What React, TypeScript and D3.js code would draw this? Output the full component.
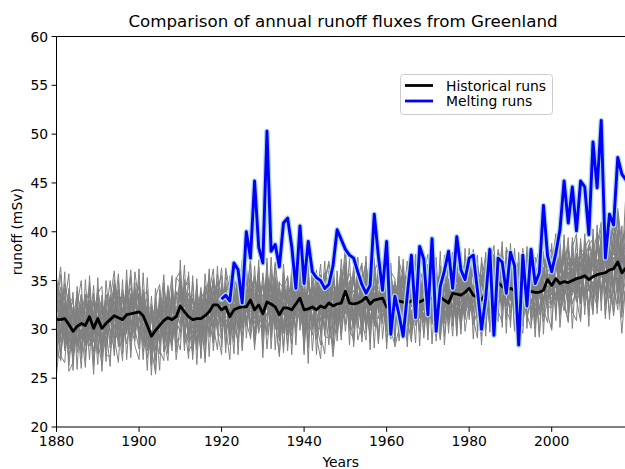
import React from 'react';
import * as d3 from 'd3';

// ---------- data ----------
const firstYear = 1880;
const lastYear = 2018;
const meltStartYear = 1920;
const xTicks = [1880, 1900, 1920, 1940, 1960, 1980, 2000];
const yTicks = [20, 25, 30, 35, 40, 45, 50, 55, 60];

// Historical runs ensemble mean (mSv), 1880-2018
const historicalMean = [
  31.0, 31.0, 31.1, 30.5, 29.8, 30.3, 30.6, 30.4, 31.3, 30.1,
  31.1, 30.1, 30.6, 31.0, 31.4, 31.2, 31.0, 31.5, 31.6, 31.7,
  31.8, 31.4, 30.4, 29.3, 29.9, 30.4, 30.9, 31.2, 31.0, 31.3,
  32.4, 31.8, 31.3, 31.0, 31.1, 31.1, 31.4, 31.8, 32.5, 32.5,
  32.0, 32.3, 31.3, 32.0, 32.2, 32.3, 32.3, 33.0, 32.0, 32.5,
  31.6, 32.8, 32.6, 32.3, 31.5, 32.2, 32.2, 32.0, 32.6, 33.2,
  32.0, 32.1, 32.3, 32.0, 32.4, 32.2, 32.7, 32.4, 32.6, 32.7,
  33.9, 32.7, 32.6, 32.7, 32.9, 33.3, 32.6, 33.0, 33.1, 33.2,
  32.3, 32.6, 32.8, 32.9, 32.8, 32.7, 32.9, 33.2, 32.8, 33.0,
  33.3, 33.2, 33.1, 33.3, 33.0, 32.7, 33.7, 33.6, 33.5, 33.8,
  34.2, 33.5, 33.3, 33.0, 33.7, 34.0, 34.6, 34.8, 34.4, 34.1,
  34.2, 34.0, 34.0, 33.9, 34.0, 33.9, 33.8, 33.8, 34.0, 35.1,
  34.5, 35.2, 34.7, 34.9, 34.8, 35.0, 35.2, 35.3, 35.5, 35.1,
  35.4, 35.6, 35.7, 35.8, 36.1, 36.2, 36.9, 35.8, 36.3,
];

// Melting runs mean (mSv), 1920-2018
const meltingMean = [
  33.1, 33.5, 32.9, 36.8, 36.1, 32.7, 40.0, 37.3, 45.2, 38.4,
  36.8, 50.3, 38.0, 38.7, 36.4, 40.9, 41.4, 38.5, 34.2, 40.6,
  34.7, 39.0, 35.9, 35.3, 35.0, 34.2, 34.6, 36.5, 40.2, 39.2,
  38.2, 37.6, 37.3, 35.9, 34.6, 33.7, 34.5, 41.8, 37.5, 34.0,
  39.0, 29.5, 33.4, 31.5, 29.3, 33.5, 37.6, 31.2, 38.5, 37.2,
  31.5, 39.3, 29.8, 34.4, 36.0, 38.0, 34.2, 39.5, 36.1, 35.1,
  37.3, 37.6, 34.0, 30.0, 33.2, 38.2, 29.4, 37.3, 36.9, 33.7,
  37.9, 36.5, 28.4, 37.6, 32.4, 38.2, 34.7, 35.8, 42.7, 37.5,
  35.9, 37.8, 40.2, 45.2, 40.9, 44.6, 40.1, 45.2, 44.6, 39.7,
  49.2, 44.5, 51.4, 37.3, 41.8, 40.7, 47.6, 45.9, 45.3,
];

// Individual historical members: anomaly from the ensemble mean (mSv), 1880-2018
const member01 = [
  -5.6, -1.2, 2.3, 0.8, -1.5, 1.9, -0.4, 2.6, -2.1, 0.7,
  1.4, -0.9, -2.7, 1.1, 0.3, 2.8, -1.6, -0.2, 1.7, -2.4,
  0.6, 1.9, -1.3, 2.2, -3.1, 0.4, 1.2, -0.8, 2.4, -1.5,
  -0.3, 2.9, -2.2, 0.9, 1.6, -1.1, 0.2, 3.1, -1.9, 0.5,
  1.8, -2.6, 0.7, -0.4, 2.3, -1.7, 1.1, -3.2, 0.8, 2.0,
  -1.4, 0.3, 1.9, -2.3, 0.6, 2.5, -0.9, -1.8, 1.3, 0.1,
  2.2, -1.0, -2.9, 1.5, 0.4, -0.6, 2.7, -1.3, 0.9, -2.0,
  0.5, 1.6, -1.7, 2.4, -0.2, -3.0, 1.2, 0.8, -1.1, 2.9,
  -0.7, 0.2, 2.1, -1.6, 1.0, -2.4, 0.6, 1.8, -0.5, -1.9,
  2.6, -0.8, 0.4, -2.2, 1.7, 0.9, -1.4, 2.3, -0.1, -2.8,
  1.1, 2.0, -1.2, 0.3, -2.5, 1.6, 0.7, -0.9, 2.8, -1.7,
  0.2, -1.5, 2.5, -0.6, 1.4, -2.1, 0.9, 1.9, -2.7, 0.6,
  -1.0, 2.2, 0.5, -1.8, 3.0, -0.4, -2.3, 1.5, 0.2, 2.4,
  -1.6, 0.8, 2.6, -0.3, 1.9, -2.0, 3.3, 0.4, 7.9,
];
const member02 = [
  2.1, 5.4, -0.6, 1.3, -2.2, 0.5, 3.0, -1.4, 0.9, 2.7,
  -1.8, 0.4, 1.6, -2.9, 2.2, -0.7, 1.0, 2.4, -1.3, 0.2,
  -2.4, 0.9, 2.8, -0.5, 1.5, -1.9, 0.3, -2.6, 1.2, 2.0,
  0.7, -1.5, 1.8, 2.6, -0.9, 0.4, -2.8, 1.3, 2.1, -0.6,
  -1.1, 2.4, -0.3, 1.7, -2.0, 3.2, 0.6, -1.5, -0.4, 1.9,
  2.8, -0.2, -1.7, 0.8, 2.3, -2.5, 1.4, 0.3, -0.9, 2.6,
  -0.5, 1.3, 2.0, -2.2, 0.1, 1.7, -1.8, 2.9, 0.6, -1.2,
  1.9, -2.7, 0.4, 1.1, -1.4, 2.2, -0.3, -2.0, 3.1, 0.8,
  -1.5, 2.6, -0.8, 0.5, 1.9, -2.3, 1.2, -0.6, 2.3, 0.0,
  1.4, -1.9, 2.7, 0.3, -0.8, 1.6, -2.6, 0.9, 1.8, -1.3,
  -0.4, 1.0, -2.1, 2.5, 0.7, -1.6, 2.2, -0.2, -1.9, 1.5,
  2.3, 0.6, -1.1, -2.4, 1.7, 0.2, -0.7, 2.8, 1.0, -1.8,
  0.9, -0.6, 1.8, 2.6, -1.5, 0.4, 2.1, -1.2, -2.5, 1.3,
  3.1, -0.9, 0.7, 4.2, -1.1, 2.4, -2.8, 1.6, 0.5,
];
const member03 = [
  -3.2, -4.1, 0.4, -1.7, 2.5, -0.8, -2.3, 1.1, -3.0, 0.2,
  -0.6, -2.8, 1.4, -1.0, -3.5, 0.7, -1.9, 2.0, -0.4, -2.6,
  1.6, -1.1, -3.3, 0.5, -0.9, 1.9, -2.4, -0.2, -1.6, 0.8,
  -2.0, 0.3, -0.7, -3.6, 1.2, -1.4, 0.6, -2.2, 1.5, -0.5,
  -1.3, 0.9, -2.9, 0.2, -1.8, 1.4, -0.6, 2.1, -3.1, -0.3,
  0.4, -2.1, 1.0, -1.5, -4.0, 0.6, -0.8, 1.7, -2.5, -1.1,
  -2.7, 0.5, -1.2, 1.8, -0.6, -2.3, 0.2, -1.5, 1.3, -3.4,
  -0.9, 1.2, -2.0, -0.4, 2.0, -1.7, -3.1, 0.7, -0.2, -1.9,
  1.1, -0.5, -2.6, 0.9, -1.3, 0.3, -3.7, -1.0, 0.6, -2.2,
  -1.4, 0.8, -0.3, -2.8, 1.5, -1.7, 0.1, -2.4, -0.8, 1.2,
  -2.5, -0.7, 1.3, -1.9, -0.2, -3.0, 0.8, -1.1, -2.1, 0.4,
  -0.9, 1.6, -2.3, -0.5, -1.6, 0.9, -3.3, -0.4, 0.7, -2.0,
  -1.2, -2.9, 0.3, -0.8, 1.1, -2.4, -1.0, 0.5, -3.1, -0.6,
  -2.2, 0.6, -1.5, -0.3, -4.5, -1.8, 0.2, -2.6, -1.0,
];
const member04 = [
  1.2, 0.3, 3.6, 2.1, -0.5, 1.8, 0.2, -1.7, 2.4, 1.0,
  2.9, 1.5, -0.3, 0.8, 2.6, -1.2, 3.1, 0.5, 1.9, -0.6,
  0.4, 2.3, 1.1, -1.0, 2.7, 0.9, -0.4, 3.3, 0.6, 1.7,
  2.5, -0.8, 0.7, 1.9, -0.2, 2.8, 1.4, -1.1, 0.3, 2.2,
  -0.4, 1.6, 3.0, 0.1, 1.2, -0.9, 2.4, 0.7, 3.5, -0.3,
  1.5, 2.7, 0.2, 1.0, -1.3, 2.1, 3.2, 0.4, 1.8, -0.7,
  0.9, -0.4, 2.5, 3.4, 0.6, -1.0, 1.3, 2.6, 0.0, 1.9,
  2.8, 0.5, 1.4, -0.8, 2.0, 3.6, 0.2, 1.1, 2.3, -0.5,
  1.6, 3.1, 0.3, 2.4, -0.6, 1.2, 2.9, 0.8, -1.2, 2.0,
  0.7, 1.8, 2.6, -0.3, 3.3, 0.9, 1.5, -0.9, 2.2, 3.0,
  1.3, -0.2, 2.1, 1.6, 0.4, 2.8, -0.7, 1.9, 3.4, 0.6,
  2.4, 1.0, -0.5, 3.1, 1.7, 0.3, 2.5, -0.1, 1.4, 2.9,
  0.8, 3.2, 1.5, 0.1, 2.7, 1.9, -0.4, 3.0, 2.2, 0.7,
  2.6, 4.1, 1.2, 3.4, 0.5, 2.3, 4.6, 1.8, 2.9,
];
const member05 = [
  -1.5, 2.7, -3.0, 0.6, 1.4, -2.1, 0.9, 3.2, -0.8, -2.4,
  0.3, 1.9, -1.1, 2.5, -2.7, 0.1, 2.0, -1.6, 0.7, 1.3,
  -2.0, 0.8, 1.7, -0.9, 2.9, -1.8, 0.5, 1.4, -2.5, 0.2,
  1.1, -2.3, 0.4, 2.2, -0.6, 1.5, -3.0, 0.9, 2.6, -1.2,
  0.6, 1.3, -1.9, 2.7, -0.2, -1.4, 1.8, 0.3, -2.6, 1.1,
  -0.8, 2.4, 0.5, -2.2, 1.6, 0.0, -1.3, 2.9, -0.4, 1.7,
  1.4, -1.7, 0.8, 2.1, -2.8, 1.0, 0.3, -0.9, 2.4, -1.5,
  -2.1, 0.6, 2.3, -1.0, 0.9, -0.3, 1.7, -2.4, 0.4, 1.6,
  2.2, -1.3, -0.2, 1.5, -2.0, 2.8, -0.6, 0.1, 1.3, -0.9,
  -1.7, 2.0, 0.7, -0.5, 1.2, -2.3, 2.6, -1.1, 0.5, 1.9,
  0.4, -1.8, 2.4, -0.2, 1.0, 0.6, -2.2, 1.8, -0.7, 2.3,
  -1.3, 0.9, 1.5, -2.6, 0.2, 2.1, -0.9, 1.2, -1.5, 0.8,
  2.0, -0.7, -1.9, 1.3, 0.5, -1.1, 2.6, -2.0, 1.1, -0.3,
  1.7, -2.4, 0.9, 2.2, -0.6, 3.5, -1.3, -3.6, 1.4,
];
const member06 = [
  0.8, -2.0, 1.5, -0.3, 2.2, -1.6, 0.4, -0.9, 1.7, -3.3,
  -1.2, 2.6, 0.5, -2.1, 1.0, -0.4, -2.9, 1.6, 0.2, 2.4,
  1.3, -0.6, 2.0, -2.8, 0.7, 2.4, -1.3, 0.1, -2.0, 1.1,
  -0.5, 1.7, -1.8, 0.6, -2.6, 0.3, 2.1, -1.0, 1.4, -2.2,
  2.3, -1.1, 0.2, -2.5, 1.5, 0.8, -1.7, 2.6, -0.9, 0.4,
  -1.9, 1.2, -0.6, 2.7, -1.4, -2.2, 0.9, -0.1, 2.2, -1.6,
  0.3, 2.5, -1.4, -0.2, 1.8, -2.7, 1.1, 0.5, -1.9, 2.0,
  -1.0, -0.3, 2.7, 0.4, -2.3, 1.3, -0.7, 2.2, -1.2, 0.0,
  1.9, -2.5, 0.8, -1.1, 2.4, 0.2, -1.6, 1.0, -2.9, 1.6,
  -0.3, 1.4, -2.0, 2.2, -0.9, 1.1, 0.3, -1.8, 2.7, -0.6,
  -2.1, 0.7, 1.9, -1.3, 2.5, -0.5, 1.4, -2.4, 0.2, 1.0,
  1.6, -2.2, 0.4, 1.2, -1.7, 2.4, -0.3, -1.9, 2.1, -0.8,
  -0.4, 1.5, -1.2, 2.9, -2.1, 0.6, 1.8, -0.7, -1.4, 2.3,
  0.9, -1.9, 2.8, -0.6, 1.3, -2.5, 0.4, 1.9, -0.8,
];
const member07 = [
  3.9, 1.1, -1.8, 2.8, 0.2, -0.7, 2.0, 1.4, -1.3, 2.5,
  0.1, -1.5, 2.3, 1.7, -0.4, 2.9, 0.6, -1.9, 2.1, 1.0,
  2.6, 0.3, -0.8, 1.5, 2.2, -1.4, 3.0, 0.8, -0.5, 2.4,
  1.2, 2.0, -1.6, 0.4, 2.7, 0.9, -0.2, 1.8, -1.3, 3.2,
  0.5, -0.7, 2.1, 1.3, -1.2, 2.6, 0.0, 1.5, 2.4, -0.8,
  2.0, 1.0, -0.9, 3.1, 0.7, -1.5, 2.3, 1.2, -0.1, 2.8,
  -1.0, 2.2, 1.6, -0.6, 2.9, 0.4, -1.4, 2.0, 1.1, 0.3,
  1.7, -1.2, 0.6, 2.5, 1.3, -0.9, 2.7, 0.2, 1.9, -0.4,
  0.6, 2.3, 1.4, -1.7, 0.8, 2.9, -0.2, 1.5, 2.2, -1.1,
  2.1, 0.2, -0.6, 1.9, 2.6, -1.3, 1.0, 3.0, -0.4, 1.6,
  0.8, 2.5, 1.2, -1.0, 0.5, 2.2, 3.1, -0.8, 1.4, 2.0,
  -0.7, 1.8, 2.9, 0.6, -1.4, 1.5, 2.3, 0.1, 3.3, 1.2,
  2.4, -0.5, 1.0, 2.7, 3.4, 0.5, -1.0, 2.8, 1.6, 3.6,
  0.9, 3.0, 1.8, -0.8, 2.5, 4.4, 2.2, -0.2, 1.1,
];
const member08 = [
  -2.6, 0.4, -1.2, -3.4, 0.9, 1.7, -2.5, -0.6, 1.2, -1.4,
  -2.9, 0.6, -0.8, 1.4, -1.7, -2.3, 0.5, -3.0, -0.2, 1.1,
  -1.5, -2.4, 0.9, -0.3, -2.7, 1.3, -1.0, -3.5, 0.4, -1.8,
  0.2, -1.9, -2.6, 1.0, -0.7, -3.2, 0.8, -1.4, -2.1, 0.6,
  -2.4, -0.1, 1.3, -1.8, -3.3, 0.3, -1.2, -0.5, 1.0, -2.7,
  -0.6, -3.1, -1.0, 0.7, -1.9, 1.2, -2.8, -0.4, -1.5, 0.8,
  -2.2, -0.8, 1.1, -3.0, -1.3, 0.6, -2.0, -3.8, 0.2, -1.0,
  -1.6, 0.3, -2.5, -1.1, 1.4, -2.2, -0.4, -1.8, -3.4, 0.5,
  -0.9, -2.0, 0.7, -3.1, -1.4, 0.0, -2.6, 1.1, -1.7, -0.5,
  -2.8, 0.9, -1.3, -0.2, -2.4, 1.3, -3.0, -0.7, -1.6, 0.4,
  -1.1, -2.9, 0.5, -1.5, -0.6, -3.6, 0.8, -2.0, -1.2, 0.1,
  -2.5, -0.3, -1.7, 1.0, -2.8, -0.8, -1.4, 0.6, -3.2, -1.9,
  0.3, -2.2, -1.0, -3.0, -0.5, 1.2, -2.4, -1.3, 0.0, -2.6,
  -1.4, -3.3, 0.7, -2.1, -0.9, -4.8, -1.6, -6.2, -1.1,
];
const member09 = [
  0.5, 3.3, -0.9, -2.2, 1.8, 0.1, -1.6, 2.2, 0.6, -0.3,
  1.6, -2.5, 0.9, 0.2, -1.4, 1.8, 2.5, -0.8, -2.2, 0.7,
  -0.1, 1.4, -2.6, 1.8, 0.3, -0.7, 2.0, -1.9, 1.0, 2.6,
  -1.6, 0.6, 2.4, -0.9, 1.1, -2.0, 0.5, 2.3, -0.4, -1.7,
  1.0, -1.6, 0.4, 2.0, -2.3, 0.9, -0.1, -1.2, 1.7, 0.3,
  -0.4, 1.9, -2.4, 0.5, 2.8, -0.7, 1.5, -2.1, 0.6, -1.3,
  1.8, -0.3, 0.9, -1.9, 1.2, 2.5, -2.6, 0.4, -0.8, 1.6,
  -2.3, 1.5, -0.1, 2.8, -1.1, 0.6, -1.9, 1.3, 0.2, -2.0,
  2.0, -0.9, 1.6, -0.2, -2.7, 1.8, 0.9, -1.4, 2.5, -0.6,
  -1.2, 0.4, -2.3, 1.7, 0.3, -0.9, 2.1, 0.6, -2.1, 1.3,
  0.9, -1.4, 0.3, 2.6, -1.8, 0.0, -1.0, 2.3, 0.8, -2.6,
  -0.2, 2.2, -1.6, 0.5, 1.9, -1.1, 0.7, -2.3, 1.6, 0.4,
  1.4, -1.8, 2.5, 0.0, -0.9, 2.0, -1.6, 0.9, 2.7, -1.0,
  0.2, 1.6, -2.2, 2.6, 0.8, -1.4, 1.9, -0.5, 2.4,
];
const member10 = [
  -0.9, -3.5, 1.6, -0.4, -2.8, 0.8, 1.9, -1.1, -0.3, 1.5,
  -2.1, 1.2, 2.4, -1.5, 0.6, -2.0, -0.5, 1.8, 2.6, -1.0,
  0.7, -1.8, 0.2, 2.4, -1.2, -2.9, 1.5, 0.6, -0.8, -2.1,
  1.9, -0.4, -1.3, 2.1, -2.4, 1.6, -0.9, 0.1, 2.8, 0.9,
  -2.6, 0.7, 1.5, -1.0, 0.8, -2.2, 2.7, -0.7, -1.4, 2.2,
  0.1, -1.6, 2.6, -0.5, -2.7, 1.8, -0.2, 2.4, -1.2, 0.5,
  -1.7, 1.4, -2.3, 0.8, 2.3, -1.1, 0.7, -2.2, 1.5, -0.3,
  2.4, -1.9, 1.0, -2.6, 0.6, 1.9, -1.5, 0.3, -0.8, 2.2,
  -1.4, 0.9, -2.1, 1.3, 2.6, -0.4, -1.9, 2.0, 0.2, -1.6,
  0.9, -2.7, 1.8, -1.0, -0.4, 2.5, -1.5, 0.7, -2.4, 1.1,
  2.2, -0.5, -1.7, 0.9, 1.5, -2.3, 0.4, 1.7, -1.3, -0.2,
  -1.1, 1.9, 0.3, -2.2, 0.8, 1.4, -2.6, 0.5, 2.0, -1.4,
  1.6, 0.2, -2.7, 1.1, -0.6, 2.3, 0.9, -1.9, 1.2, -0.4,
  -2.3, 1.2, 0.6, -1.0, 2.1, 0.3, -2.0, 1.4, -0.7,
];
const member11 = [
  1.8, -0.6, -2.4, 1.0, -1.1, 2.6, -3.1, 0.3, 2.8, -0.5,
  -0.7, 2.2, -1.8, -0.6, 2.9, 0.8, -1.3, 0.4, -2.8, 1.9,
  -1.2, 2.7, 0.6, -1.6, 1.1, 2.2, -2.2, 1.7, -0.3, -0.9,
  2.8, -2.5, 1.3, -0.2, 0.7, -1.5, 2.5, -2.6, 0.2, 1.6,
  -0.9, 2.1, -1.4, 0.6, -0.5, 2.4, -2.0, 1.2, -0.3, -1.8,
  1.1, -0.8, 2.0, -1.7, 0.4, -2.6, 1.6, -0.6, 2.6, 0.0,
  -0.7, 1.0, -2.1, 2.3, -1.5, 0.2, 2.2, -0.4, -2.5, 1.2,
  0.8, 2.1, -1.3, 0.2, -2.6, 0.9, 1.5, -1.6, 2.4, -0.9,
  -2.2, 0.4, 1.9, -0.8, 1.2, -1.5, 0.3, -2.4, 1.1, 2.3,
  0.2, -1.3, 1.0, 2.4, -2.0, 0.5, -0.7, 1.9, -1.1, -2.5,
  1.8, 0.3, -0.9, -2.3, 1.6, -0.4, 2.6, -1.5, 0.7, -1.0,
  -2.0, 1.3, 0.8, -1.4, 2.3, -2.5, 1.0, -0.6, -1.3, 2.6,
  0.6, -2.3, 1.9, -0.9, -1.6, 2.8, -0.5, 1.4, -1.8, 0.5,
  2.3, 0.0, -1.7, 2.9, -2.4, 1.2, -0.8, 3.1, -0.3,
];
const member12 = [
  -4.3, 1.9, 0.7, -1.0, -2.6, -0.2, 1.3, -2.8, -1.5, 0.9,
  0.8, -1.7, -0.5, 2.3, -0.9, -2.6, 1.2, 0.0, -1.6, -2.9,
  2.0, -0.7, -1.5, 0.6, -1.9, 0.4, -0.6, -2.2, 1.8, -0.4,
  -2.7, 1.4, -0.1, -1.8, 0.9, -2.4, -1.2, 1.0, -0.3, -2.5,
  0.3, -2.0, -1.1, 1.6, -0.6, -3.0, 0.7, 0.2, -2.4, 0.9,
  -1.2, 0.6, -2.5, -0.3, 1.1, -1.8, 0.0, -2.7, 0.9, -0.5,
  -3.3, -0.2, 0.6, -1.7, -2.4, 1.3, -0.7, -5.2, -1.2, 0.4,
  0.1, -2.2, -0.6, 1.1, -3.6, -0.9, 0.8, -1.5, -2.0, 1.3,
  -1.8, 0.5, -1.0, -2.4, 0.7, -1.3, 1.4, -2.8, -0.3, 0.2,
  -0.7, -2.3, 1.2, -3.4, -0.5, 0.8, -1.9, -0.2, 1.0, -2.1,
  -1.5, 0.9, -0.4, -2.0, -1.1, 1.6, -2.7, 0.3, -0.8, -1.6,
  0.7, -2.4, -1.2, 0.4, -2.9, -0.1, 1.5, -1.7, -0.6, -2.2,
  -1.9, 0.1, -3.2, -0.7, 1.0, -1.5, -0.2, -2.6, 0.8, -1.2,
  -0.5, -2.7, 1.1, -1.8, -0.4, -2.2, 0.9, -1.3, -3.0,
];
const member13 = [
  2.9, -1.4, 0.1, 3.4, 1.2, -2.0, 0.6, 1.9, 3.1, -0.7,
  1.3, 2.8, -0.4, 1.0, 3.3, -1.0, 0.9, 2.7, -0.3, 1.6,
  3.2, -0.2, 1.8, 2.9, -0.6, 1.4, 2.5, -1.2, 3.0, 0.3,
  -0.8, 2.6, 3.5, 0.2, 1.7, -0.4, 3.0, 1.2, -1.0, 2.4,
  2.7, 0.8, -1.3, 3.1, 1.9, 0.4, -0.2, 2.8, 1.1, 3.4,
  0.3, 2.2, 1.4, -1.1, 3.3, 2.0, 0.5, -0.3, 3.6, 1.0,
  2.5, 3.2, 0.0, 1.7, -0.8, 2.8, 4.3, 1.3, 0.7, 2.9,
  0.5, 3.0, 2.2, 0.1, 1.6, 3.5, -0.2, 2.6, 1.1, 0.9,
  3.4, 1.2, -0.5, 2.7, 0.4, 1.9, 3.2, 0.6, -0.4, 2.6,
  1.8, 3.5, 0.9, 0.0, 2.9, 1.3, -0.6, 3.1, 2.0, 0.4,
  2.6, -0.3, 3.3, 1.5, 0.2, 2.4, 1.1, 3.0, -0.5, 1.9,
  0.7, 2.9, 1.6, 3.7, 0.4, -0.2, 2.7, 1.3, 3.2, 0.8,
  3.0, 1.5, -0.3, 2.3, 3.6, 1.0, 2.4, -0.6, 2.8, 4.1,
  1.6, 2.5, 4.7, 0.8, 3.6, 1.4, 5.5, 2.9, 4.0,
];
const member14 = [
  -1.9, 0.6, 2.9, -2.5, -0.4, 1.1, -1.4, 0.7, -2.2, 1.8,
  2.4, -0.3, -2.1, 0.9, 1.5, -1.8, 0.3, 2.2, -1.1, -0.4,
  -0.6, 1.7, 0.2, -2.3, 1.9, -0.3, -1.7, 2.8, 0.4, -1.3,
  1.5, -2.8, 0.9, 1.3, -1.5, 2.5, -0.5, -1.9, 1.2, 0.1,
  -1.7, 1.1, 2.3, -2.1, 0.6, -0.4, 1.4, -2.5, 0.8, 1.9,
  0.9, -1.4, -0.2, 1.6, -0.9, 2.7, -2.0, 1.0, -0.7, 2.1,
  -2.4, 0.6, 1.7, -1.2, 0.3, -1.8, 2.4, 0.9, -3.0, 0.7,
  1.2, -0.7, -2.2, 1.8, 0.5, -1.2, 2.0, -2.7, 0.8, 1.4,
  -0.5, 1.8, 0.2, -1.9, 2.2, 0.7, -1.2, 0.4, 1.9, -2.3,
  1.5, -1.0, 2.3, 0.6, -1.7, -0.1, 1.8, -2.0, 0.9, 2.4,
  -1.6, 0.2, 1.4, -0.6, 2.0, -2.4, 0.5, 1.2, -0.4, 1.7,
  0.3, -1.8, 2.2, 0.9, -0.7, 1.1, -2.1, 2.5, -1.0, 0.6,
  -2.0, 1.6, 0.4, -1.3, 2.1, -0.8, 1.3, 0.0, -2.2, 1.9,
  0.6, -1.2, 2.0, 1.1, -2.9, 0.8, -1.1, 2.6, 1.4,
];
const member15 = [
  0.2, -2.3, -1.1, 1.5, 3.1, -1.3, -0.5, -2.0, 1.1, 0.4,
  -0.5, 1.0, 0.7, -1.2, -2.4, 2.2, -0.7, -1.3, 0.9, 2.3,
  -2.2, 0.5, 1.9, 0.0, -1.0, 2.8, -0.9, 0.3, -2.7, 1.5,
  0.6, 1.1, -2.2, -0.5, 2.4, -1.0, 1.7, -0.6, -2.3, 1.3,
  1.5, -2.8, 0.9, -0.7, 2.0, 1.1, -1.5, 0.6, 2.1, -2.1,
  -0.1, 0.8, -1.8, 2.4, 0.2, -2.3, 1.8, -0.9, 0.3, 2.5,
  1.1, -2.1, 0.4, 0.9, -0.9, 2.0, -1.0, 1.6, -1.5, 2.6,
  -1.3, 0.9, 2.5, -1.7, 1.0, -0.5, -2.3, 1.5, 0.5, -1.4,
  0.8, -1.2, 1.3, 2.0, -0.9, -2.1, 1.6, -0.3, 0.9, 1.4,
  -2.0, 1.1, -0.6, 1.4, -1.3, 2.2, 0.4, -2.5, 1.5, -0.2,
  1.3, -1.7, 2.1, 0.1, -2.6, 1.0, 1.9, -0.4, -1.8, 2.4,
  -0.4, 0.6, -2.0, 1.8, 1.1, -1.3, 0.2, 2.4, -1.2, 0.9,
  1.7, -1.0, 0.8, -2.1, 1.5, 0.3, -0.8, 2.2, -0.3, 1.8,
  -1.5, 2.7, -0.4, 0.6, 1.9, -2.3, 2.8, -0.9, 0.5,
];
const member16 = [
  4.1, 2.2, -0.2, 0.4, -1.3, 3.0, 1.5, -0.4, 0.2, 2.9,
  -1.1, 0.7, 2.9, 0.3, -0.6, 1.4, 2.7, -2.0, 1.2, 0.5,
  1.9, -1.5, 0.7, 2.6, 0.1, -1.1, 1.3, 2.1, -0.6, 0.9,
  -0.4, 2.1, 1.5, -1.4, 0.5, 1.9, -1.6, 2.7, 0.7, -0.9,
  2.6, 0.3, -0.8, 1.2, 2.5, -1.6, 0.9, -0.2, 2.9, 1.4,
  0.6, 3.0, 1.1, -1.2, 0.8, 1.5, -0.6, 2.2, 1.0, -1.8,
  2.0, 0.7, -1.5, 2.7, 1.4, -0.5, 3.3, 0.6, 2.1, -0.7,
  0.9, 1.8, 2.9, -0.6, -0.3, 2.3, 1.0, -1.1, 2.6, 1.5,
  -1.0, 2.4, 0.6, 1.7, 3.0, -0.7, 0.8, 2.3, -1.5, 1.2,
  2.8, -0.4, 1.4, 2.6, 0.1, -1.5, 2.9, 1.2, 0.3, -0.8,
  0.5, 2.3, -1.1, 1.8, 2.9, 0.6, -1.4, 2.1, 1.3, 0.2,
  1.9, -0.9, 2.6, 0.3, 1.5, 2.8, -0.4, 0.7, 2.4, -1.3,
  -0.6, 2.2, 1.1, 3.3, 0.1, -1.2, 2.5, 1.6, 0.0, 3.1,
  2.7, 0.5, 3.8, 1.2, 4.5, 2.0, 5.1, 1.4, 2.6,
];
const member17 = [
  3.8, -4.2, 1.5, 5.2, -2.9, 0.6, -4.6, 3.1, -1.2, 4.4,
  -3.6, 2.1, -0.5, -4.8, 3.7, 1.0, -2.4, 4.6, -3.8, 0.9,
  2.7, -3.1, 4.9, -1.4, -4.3, 2.5, 0.3, -3.7, 3.9, -2.0,
  -4.5, 3.3, 0.8, -2.6, 4.1, -3.9, 1.7, 3.6, -4.7, 0.4,
  4.3, -1.8, -4.4, 2.9, -0.7, 4.8, -3.2, 1.2, -4.1, 3.0,
  -2.3, 4.5, -3.5, 0.9, 3.4, -4.6, 2.0, -1.6, 4.2, -3.3,
  1.4, -4.0, 3.8, -2.7, -5.4, 2.6, 4.0, -3.0, 0.5, 3.5,
  -3.4, 2.3, -1.0, 4.4, -4.2, 1.6, 3.2, -4.9, 2.8, -0.8,
  4.0, -3.6, 1.9, -0.3, 3.7, -4.5, 2.4, -2.1, 4.6, -3.9,
  0.6, 3.9, -4.3, 2.2, -1.5, 4.7, -3.4, 1.0, -4.0, 3.6,
  -2.8, 1.3, 4.3, -3.7, 2.9, -0.9, -4.6, 3.4, 1.8, -3.1,
  3.5, -4.1, 0.7, 4.1, -2.5, -3.8, 2.7, 4.5, -1.9, -4.4,
  2.1, 4.6, -3.3, 0.2, 3.8, -4.9, 1.5, -2.6, 4.3, -0.5,
  -3.9, 3.1, 5.3, -2.2, 0.8, 4.7, -4.3, 2.5, -1.8,
];
const member18 = [
  -4.8, 2.6, -3.3, -0.8, 4.0, -4.4, 2.9, -2.1, 3.5, -3.9,
  4.2, -2.9, 3.0, 1.6, -4.1, 3.8, -3.5, 0.4, 4.5, -1.7,
  -3.8, 4.4, -2.2, 3.3, 1.1, -4.6, 3.9, -0.6, -3.2, 4.0,
  2.4, -4.0, 4.6, -3.1, -0.5, 3.2, -4.8, 2.0, 3.7, -2.6,
  -3.0, 3.6, 1.2, -4.5, 4.1, -2.2, 0.2, 4.4, -3.6, -1.0,
  3.7, -3.4, 4.8, -0.9, -4.3, 3.0, -2.7, 4.3, -1.3, 3.3,
  -4.2, 2.8, -0.4, 4.1, -3.0, -4.7, 2.3, 3.6, -3.8, 1.2,
  4.5, -1.4, -3.9, 2.6, 3.9, -3.2, 4.7, -0.1, -4.4, 3.1,
  -2.5, 4.2, -4.0, 3.5, -1.1, 2.7, -3.9, 4.5, 0.6, -3.5,
  3.4, -4.7, 2.0, -3.0, 4.6, -0.6, 3.8, -4.1, 2.9, -2.4,
  4.1, -3.0, -1.5, 3.9, -4.4, 2.3, 4.0, -2.9, -3.7, 3.3,
  -1.2, 3.6, -4.6, 2.6, 3.1, -3.4, -0.8, 4.2, -4.5, 2.4,
  3.8, -3.7, 4.5, -1.9, -4.1, 3.4, 4.6, -2.7, 2.0, -4.8,
  4.9, -2.3, 3.6, -4.4, 2.1, 5.6, -3.2, 4.8, -2.5,
];
const member19 = [
  1.0, 4.6, -2.6, 3.7, -4.0, 2.2, 4.4, -3.5, 0.3, -4.7,
  3.1, -4.4, 0.8, 4.0, -2.2, -4.6, 2.7, -1.1, 3.8, -3.4,
  -4.9, 2.0, 3.6, -3.0, 4.3, -2.5, -4.1, 2.8, -1.5, 3.9,
  3.6, -1.2, -4.3, 4.5, -3.2, 0.9, 3.1, -4.6, 2.5, -2.8,
  -4.6, 4.0, 2.6, -3.3, 1.6, -4.2, 3.9, -2.4, 3.3, -0.2,
  2.9, -4.8, 0.1, 4.4, -2.0, 3.7, -4.4, 1.9, -3.0, 4.7,
  -2.0, 3.9, -4.5, 0.8, 4.3, -2.9, -3.6, 4.6, -1.7, 2.3,
  -4.1, 0.7, 3.5, -3.8, -2.3, 4.2, -4.0, 2.9, 3.9, -2.6,
  3.2, -2.7, -4.4, 4.1, 2.5, -3.5, 0.8, -4.6, 3.4, 1.7,
  -3.9, 2.5, 4.3, -4.2, -0.6, 3.6, -2.7, 4.5, -3.3, 0.1,
  2.7, -4.5, 3.0, 0.4, -3.6, 4.4, -1.9, -4.0, 3.7, -2.2,
  -3.3, 4.3, -2.6, -4.3, 3.5, 1.2, -4.6, 3.0, 0.3, 4.6,
  -4.4, 2.2, -0.4, 4.2, -3.1, 3.9, -2.1, -4.5, 3.6, 1.4,
  -3.5, 4.3, -2.8, 2.9, -5.1, 3.7, 0.9, -4.6, 3.2,
];
const member20 = [
  -2.9, -1.5, 4.8, -4.2, 0.7, 3.6, -3.6, 4.7, -2.5, 1.8,
  -4.7, 3.4, -3.9, 2.1, 4.6, -1.0, -4.2, 3.5, -2.8, 4.2,
  0.8, -4.5, 2.6, -4.0, 3.4, 4.2, -1.8, -4.4, 2.4, -3.6,
  4.7, -3.4, -1.1, 3.8, -4.7, 2.7, -2.2, 4.4, -3.5, 1.5,
  3.5, -4.7, 4.2, -0.6, -3.5, 2.8, 4.6, -4.0, 0.6, 3.9,
  -4.5, 2.1, -3.2, 4.6, 1.5, -4.1, 3.3, -4.6, 2.5, -0.8,
  4.1, -3.3, 2.7, -4.6, 3.2, 0.5, -4.3, 3.8, -2.6, 4.5,
  -2.2, 4.6, -4.4, 1.5, 3.6, -3.7, 2.1, 4.0, -4.6, 0.8,
  -3.6, 3.3, 2.4, -4.1, 0.2, 4.3, -3.0, 3.7, -4.5, 2.8,
  4.4, -2.1, -3.8, 3.2, -4.6, 1.9, 4.2, -3.6, 2.6, -4.0,
  -1.4, 4.7, -3.5, 2.0, 3.9, -4.3, 0.6, 3.1, -4.2, 4.3,
  2.8, -4.2, 3.9, -3.0, -1.3, 4.4, -3.7, 2.3, 4.0, -3.5,
  -4.6, 3.0, -1.7, 4.8, -3.4, -0.9, 4.1, -4.2, 2.9, -3.7,
  4.2, -4.0, 2.2, -3.3, 4.7, -1.5, -4.9, 3.3, 4.1,
];
const member21 = [
  4.5, -3.7, -4.5, 2.4, 3.3, -2.7, -0.6, -4.3, 4.2, -1.3,
  2.6, 4.3, -3.2, -3.8, 0.4, 4.5, -2.0, 2.9, -4.5, 3.1,
  -3.4, 1.1, -4.6, 4.1, -2.1, 0.6, 4.7, -3.3, 3.2, -4.4,
  -1.8, 4.8, -3.6, -2.4, 3.5, -4.1, 4.3, -0.8, -3.9, 4.0,
  -3.8, 2.5, -2.7, 4.6, -4.8, 3.4, -1.6, -3.8, 4.5, -2.9,
  4.2, -0.6, 3.6, -4.4, 2.7, 0.2, -3.9, 4.1, -4.2, 2.2,
  -4.6, 4.4, -2.3, 3.3, -0.9, 4.8, -2.8, -4.1, 3.4, -3.2,
  3.0, -4.3, 4.1, -2.0, -3.7, 2.8, -4.7, 4.3, -1.4, 3.7,
  -4.3, 1.6, -3.4, 4.6, -2.6, -3.9, 4.0, -0.9, -3.1, 4.4,
  -2.6, 4.1, -0.9, -4.4, 3.4, -3.1, 2.0, -4.3, 4.4, -1.7,
  3.6, -2.4, -4.2, 4.4, -0.7, 3.5, -4.1, 2.6, -2.5, 4.0,
  -4.0, 3.2, 2.2, -3.6, 4.5, -2.7, 3.6, -4.4, 0.9, -3.0,
  4.3, -4.3, 3.4, -2.5, -3.9, 4.4, -1.3, 3.7, -4.0, 2.7,
  -2.9, 5.1, -3.8, 4.0, -1.3, -4.4, 2.7, -2.4, 6.6,
];
const member22 = [
  -4.0, 1.2, 3.1, -4.8, -3.2, 4.1, -0.3, 2.5, -4.4, 3.6,
  -2.4, -3.6, 4.4, -0.3, 3.2, -3.0, 4.1, -4.6, 1.7, -2.1,
  4.4, -3.7, -0.7, 3.0, -4.5, 3.7, -3.2, 1.2, 4.5, -2.7,
  -3.3, 2.2, 4.2, -4.1, 2.0, -0.2, -4.4, 3.9, -2.0, -4.6,
  2.4, -3.9, 3.7, -2.0, 4.4, -4.5, 1.4, 3.8, -3.3, 4.6,
  -3.6, 4.0, -4.6, 2.0, -2.5, 4.5, -1.2, -3.5, 4.6, -2.8,
  3.7, -5.6, 4.6, -1.3, -4.0, 3.6, 1.7, -4.6, 2.4, -3.8,
  4.2, -2.8, -3.6, 4.7, -1.9, -4.4, 3.3, -2.3, 4.5, -4.2,
  1.4, 3.9, -4.6, -2.8, 4.4, -1.6, -4.2, 3.8, -0.9, 4.1,
  -4.4, 3.5, -2.4, 4.7, -3.7, 0.9, -4.4, 2.7, -3.5, 4.5,
  -3.2, 3.7, 1.8, -4.6, 4.2, -3.6, 2.9, -0.5, 4.6, -4.5,
  4.6, -1.5, -4.0, 4.4, -3.9, 3.3, 1.1, -4.6, 3.8, -2.7,
  -2.3, 4.5, -4.5, 0.9, 4.6, -3.2, -4.3, 4.0, -2.2, 3.5,
  3.9, -3.4, 4.4, -4.7, 1.0, -3.7, 4.9, -4.1, -1.9,
];
const memberAnomalies = [
  member01, member02, member03, member04, member05, member06, member07, member08,
  member09, member10, member11, member12, member13, member14, member15, member16,
  member17, member18, member19, member20, member21, member22,
];

// ---------- layout ----------
const W = 625;
const H = 469;
const plotLeft = 56.5;
const plotRight = 626;
const plotTop = 36.5;
const plotBottom = 427;
const FONT = '"DejaVu Sans", sans-serif';

type Pt = { year: number; v: number };

export default function App() {
  const x = d3.scaleLinear().domain([firstYear, lastYear]).range([plotLeft, plotRight]);
  const y = d3.scaleLinear().domain([20, 60]).range([plotBottom, plotTop]);
  const line = d3
    .line<Pt>()
    .x((d) => x(d.year))
    .y((d) => y(d.v));

  const histPts: Pt[] = historicalMean.map((v, i) => ({ year: firstYear + i, v }));
  const meltPts: Pt[] = meltingMean.map((v, i) => ({ year: meltStartYear + i, v }));
  const memberPts: Pt[][] = memberAnomalies.map((arr) =>
    arr
      .slice(0, historicalMean.length)
      .map((a, i) => ({ year: firstYear + i, v: historicalMean[i] + a }))
  );

  const tickLen = 4.9;

  return (
    <svg
      width={W}
      height={H}
      viewBox={`0 0 ${W} ${H}`}
      style={{ position: 'absolute', left: 0, top: 0, background: '#fff' }}
      fontFamily={FONT}
    >
      <defs>
        <clipPath id="plotClip">
          <rect x={plotLeft} y={plotTop} width={plotRight - plotLeft} height={plotBottom - plotTop} />
        </clipPath>
      </defs>
      <rect x={0} y={0} width={W} height={H} fill="#fff" />

      <g clipPath="url(#plotClip)">
        {memberPts.map((pts, k) => (
          <path
            key={k}
            d={line(pts) || ''}
            fill="none"
            stroke="#808080"
            strokeWidth={1.0}
            strokeLinejoin="round"
          />
        ))}
        <path
          d={line(histPts) || ''}
          fill="none"
          stroke="#000"
          strokeWidth={2.8}
          strokeLinejoin="round"
        />
        <path
          d={line(meltPts) || ''}
          fill="none"
          stroke="#add8e6"
          strokeWidth={5.5}
          strokeLinejoin="round"
          strokeLinecap="round"
        />
        <path
          d={line(meltPts) || ''}
          fill="none"
          stroke="#0000ff"
          strokeWidth={2.9}
          strokeLinejoin="round"
        />
      </g>

      {/* spines */}
      <g stroke="#000" strokeWidth={1} fill="none">
        <line x1={plotLeft} x2={plotLeft} y1={plotTop} y2={plotBottom} />
        <line x1={plotLeft} x2={plotRight} y1={plotBottom} y2={plotBottom} />
        <line x1={plotLeft} x2={plotRight} y1={plotTop} y2={plotTop} />
        <line x1={plotRight} x2={plotRight} y1={plotTop} y2={plotBottom} />
      </g>

      {/* x ticks */}
      {xTicks.map((t) => (
        <g key={t}>
          <line x1={x(t)} x2={x(t)} y1={plotBottom} y2={plotBottom + tickLen} stroke="#000" strokeWidth={1} />
          <text x={x(t)} y={plotBottom + tickLen + 14} textAnchor="middle" fontSize={13.9} fill="#000">
            {t}
          </text>
        </g>
      ))}

      {/* y ticks */}
      {yTicks.map((t) => (
        <g key={t}>
          <line x1={plotLeft - tickLen} x2={plotLeft} y1={y(t)} y2={y(t)} stroke="#000" strokeWidth={1} />
          <text x={plotLeft - tickLen - 3.5} y={y(t) + 5} textAnchor="end" fontSize={13.9} fill="#000">
            {t}
          </text>
        </g>
      ))}

      {/* labels */}
      <text x={(plotLeft + 625) / 2} y={467} textAnchor="middle" fontSize={13.9} fill="#000">
        Years
      </text>
      <text
        transform={`translate(22, ${(plotTop + plotBottom) / 2}) rotate(-90)`}
        textAnchor="middle"
        fontSize={13.9}
        fill="#000"
      >
        runoff (mSv)
      </text>
      <text x={343} y={27} textAnchor="middle" fontSize={16.7} fill="#000">
        Comparison of annual runoff fluxes from Greenland
      </text>

      {/* legend */}
      <g>
        <rect x={400.5} y={74.5} width={152} height={40} rx={3} fill="#fff" fillOpacity={0.8} stroke="#cccccc" strokeWidth={1} />
        <line x1={405} x2={433} y1={85.5} y2={85.5} stroke="#000" strokeWidth={2.8} />
        <text x={446} y={90.5} fontSize={13.9} fill="#000">
          Historical runs
        </text>
        <line x1={405} x2={433} y1={101} y2={101} stroke="#0000ff" strokeWidth={2.8} />
        <text x={446} y={106} fontSize={13.9} fill="#000">
          Melting runs
        </text>
      </g>
    </svg>
  );
}
